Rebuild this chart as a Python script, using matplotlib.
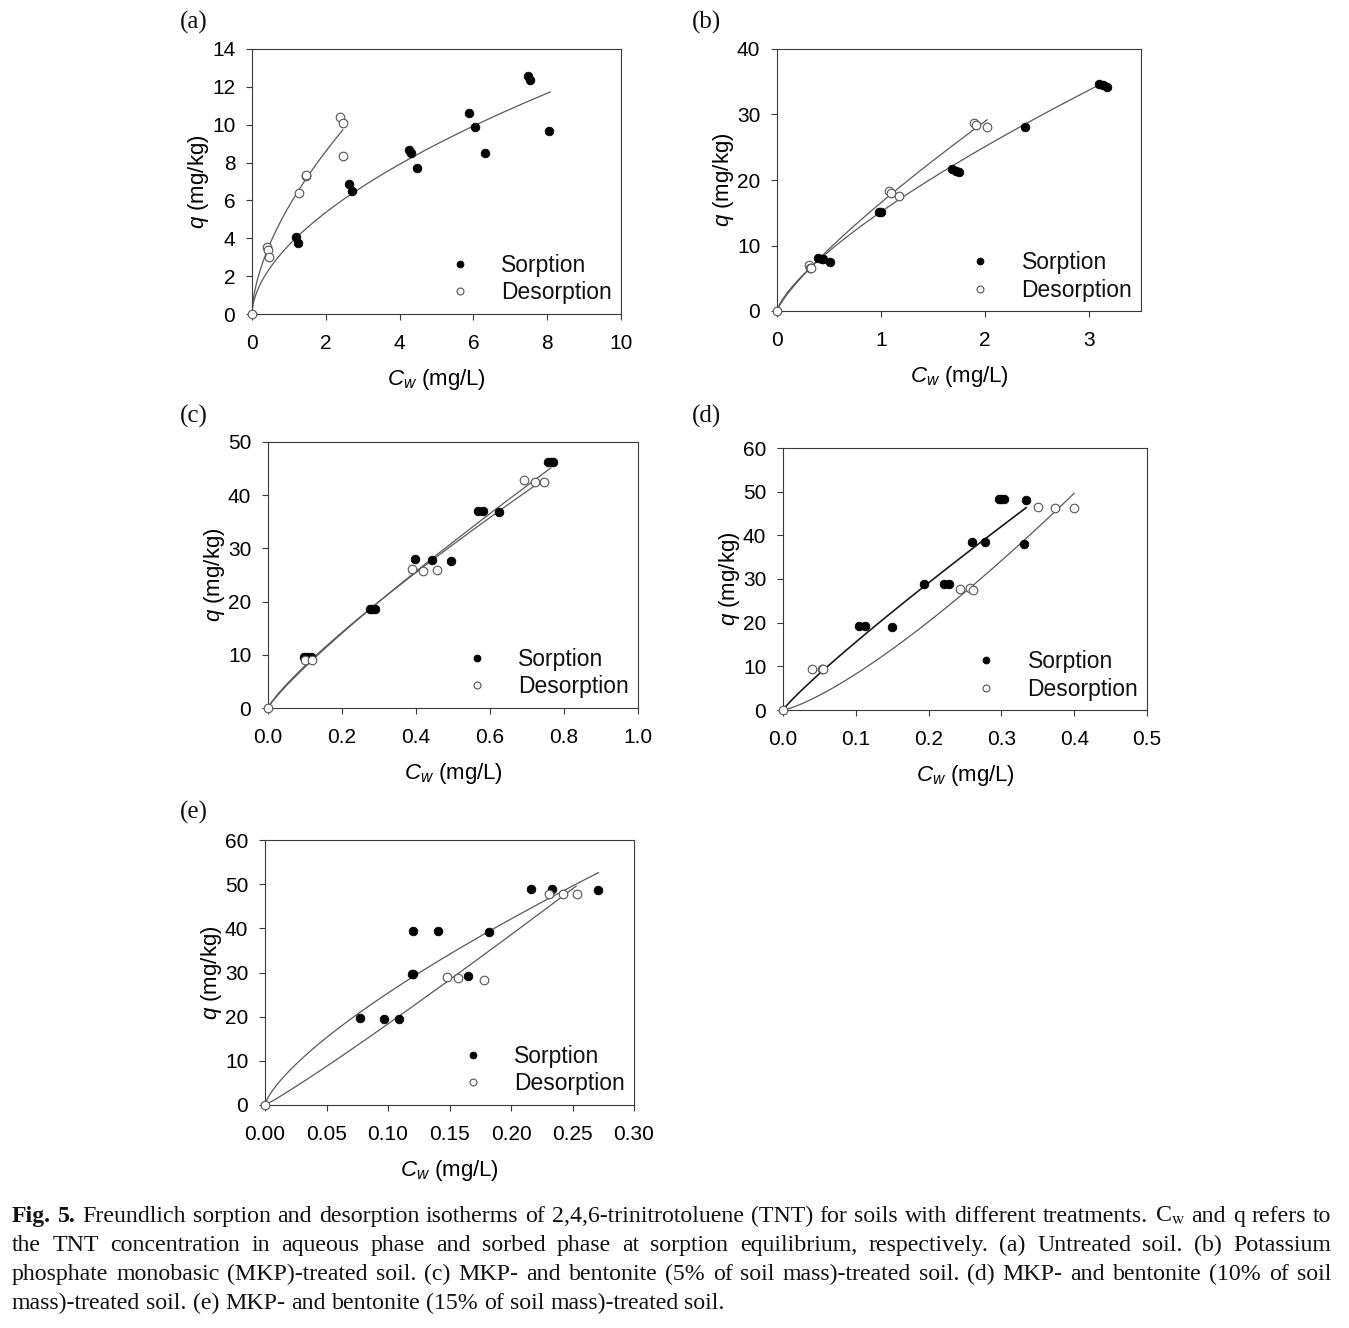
import numpy as np
import matplotlib
matplotlib.use('Agg')
import matplotlib.pyplot as plt
from matplotlib.ticker import FormatStrFormatter

plt.rcParams.update({
    'font.family': 'Liberation Sans',
    'mathtext.fontset': 'custom',
    'mathtext.rm': 'Liberation Sans',
    'mathtext.it': 'Liberation Sans:italic',
    'mathtext.bf': 'Liberation Sans:bold',
    'text.color': '#111111',
})

# ---------------- data ----------------
# (a) Untreated soil
a_sorp_x = [1.19, 1.26, 2.63, 2.70, 4.26, 4.30, 4.46, 5.87, 6.03, 6.31, 7.49, 7.53, 8.06]
a_sorp_y = [4.05, 3.73, 6.85, 6.52, 8.66, 8.52, 7.70, 10.64, 9.90, 8.49, 12.59, 12.36, 9.68]
a_des_x = [0.0, 0.42, 0.43, 0.47, 1.27, 1.45, 1.47, 2.39, 2.46, 2.46]
a_des_y = [0.0, 3.52, 3.38, 3.03, 6.39, 7.27, 7.34, 10.42, 10.11, 8.36]
a_fit = {'sorp': (3.64, 0.56, 8.08), 'des': (5.69, 0.595, 2.46)}   # (K, n, Cmax)

# (b) MKP-treated soil
b_sorp_x = [0.39, 0.43, 0.44, 0.51, 0.985, 1.0, 1.686, 1.72, 1.75, 2.385, 3.10, 3.13, 3.17]
b_sorp_y = [8.14, 7.94, 7.9, 7.53, 15.16, 15.06, 21.63, 21.43, 21.22, 28.14, 34.6, 34.5, 34.25]
b_des_x = [0.0, 0.31, 0.32, 0.33, 1.08, 1.10, 1.176, 1.89, 1.91, 2.02]
b_des_y = [0.0, 7.02, 6.5, 6.6, 18.3, 18.05, 17.56, 28.7, 28.45, 28.14]
b_fit = {'sorp': (15.14, 0.729, 3.12), 'des': (16.55, 0.807, 2.02)}

# (c) MKP + bentonite 5 %
c_sorp_x = [0.097, 0.106, 0.115, 0.275, 0.281, 0.288, 0.396, 0.444, 0.494, 0.568, 0.582, 0.625, 0.757, 0.764, 0.770]
c_sorp_y = [9.68, 9.68, 9.68, 18.68, 18.68, 18.68, 28.06, 27.8, 27.56, 37.1, 37.0, 36.8, 46.2, 46.2, 46.2]
c_des_x = [0.0, 0.101, 0.119, 0.388, 0.42, 0.457, 0.692, 0.721, 0.746]
c_des_y = [0.0, 9.0, 9.0, 26.1, 25.75, 25.9, 42.8, 42.4, 42.5]
c_fit = {'sorp': (57.0, 0.87, 0.764), 'des': (55.0, 0.84, 0.743)}

# (d) MKP + bentonite 10 %
d_sorp_x = [0.105, 0.113, 0.150, 0.193, 0.221, 0.228, 0.260, 0.278, 0.297, 0.300, 0.304, 0.334, 0.331]
d_sorp_y = [19.3, 19.3, 19.1, 28.9, 28.8, 28.8, 38.5, 38.5, 48.3, 48.3, 48.3, 48.1, 38.1]
d_des_x = [0.0, 0.040, 0.053, 0.055, 0.243, 0.257, 0.261, 0.350, 0.373, 0.400]
d_des_y = [0.0, 9.5, 9.5, 9.5, 27.7, 27.9, 27.4, 46.6, 46.3, 46.3]
d_fit = {'sorp': (125.0, 0.905, 0.334), 'des': (162.6, 1.295, 0.400)}

# (e) MKP + bentonite 15 %
e_sorp_x = [0.0775, 0.0964, 0.1086, 0.1197, 0.1205, 0.120, 0.141, 0.182, 0.165, 0.216, 0.233, 0.271]
e_sorp_y = [19.7, 19.5, 19.5, 29.6, 29.6, 39.4, 39.4, 39.1, 29.3, 49.0, 48.9, 48.7]
e_des_x = [0.0, 0.148, 0.157, 0.178, 0.231, 0.242, 0.254]
e_des_y = [0.0, 28.9, 28.7, 28.4, 47.7, 47.7, 47.7]
e_fit = {'sorp': (136.8, 0.732, 0.271), 'des': (215.7, 1.07, 0.253)}

panel_labels = ['(a)', '(b)', '(c)', '(d)', '(e)']
x_ticks = [[0, 2, 4, 6, 8, 10], [0, 1, 2, 3], [0.0, 0.2, 0.4, 0.6, 0.8, 1.0],
           [0.0, 0.1, 0.2, 0.3, 0.4, 0.5], [0.0, 0.05, 0.10, 0.15, 0.20, 0.25, 0.30]]
y_ticks = [[0, 2, 4, 6, 8, 10, 12, 14], [0, 10, 20, 30, 40], [0, 10, 20, 30, 40, 50],
           [0, 10, 20, 30, 40, 50, 60], [0, 10, 20, 30, 40, 50, 60]]
x_lims = [(0, 10), (0, 3.5), (0, 1.0), (0, 0.5), (0, 0.30)]
x_fmt = ['%d', '%d', '%.1f', '%.1f', '%.2f']

caption_lines = [
    "Fig. 5. Freundlich sorption and desorption isotherms of 2,4,6-trinitrotoluene (TNT) for soils with different treatments. C$_{\\mathrm{w}}$ and q refers to",
    "the TNT concentration in aqueous phase and sorbed phase at sorption equilibrium, respectively. (a) Untreated soil. (b) Potassium",
    "phosphate monobasic (MKP)-treated soil. (c) MKP- and bentonite (5% of soil mass)-treated soil. (d) MKP- and bentonite (10% of soil",
    "mass)-treated soil. (e) MKP- and bentonite (15% of soil mass)-treated soil.",
]

# ---------------- layout ----------------
W, H = 1349, 1328
fig = plt.figure(figsize=(W / 100, H / 100), dpi=100)
fig.patch.set_facecolor('white')

def rect(L, R, T, B):
    return [L / W, 1 - B / H, (R - L) / W, (B - T) / H]

boxes = [(252, 621, 49, 314), (777, 1141, 49, 311), (268, 638, 442, 708),
         (783, 1147, 448, 710), (265, 634, 840, 1105)]
label_pos = [(194, 22), (706, 22), (194, 416), (706, 416), (194, 812)]

data = [
    (a_sorp_x, a_sorp_y, a_des_x, a_des_y, a_fit),
    (b_sorp_x, b_sorp_y, b_des_x, b_des_y, b_fit),
    (c_sorp_x, c_sorp_y, c_des_x, c_des_y, c_fit),
    (d_sorp_x, d_sorp_y, d_des_x, d_des_y, d_fit),
    (e_sorp_x, e_sorp_y, e_des_x, e_des_y, e_fit),
]

spine_col = '#3a3a3a'
line_col = '#5a5a5a'

for i, (sx, sy, dx, dy, fit) in enumerate(data):
    ax = fig.add_axes(rect(*boxes[i]))
    # Freundlich fits q = K * C^n
    for key in ('sorp', 'des'):
        K, n, cmax = fit[key]
        cc = np.linspace(0, cmax, 400)
        if i == 3 and key == 'sorp':
            ax.plot(cc, K * cc ** n, color='#1a1a1a', lw=1.2, zorder=2)
        else:
            ax.plot(cc, K * cc ** n, color=line_col, lw=0.9, zorder=2)
    ax.plot(sx, sy, 'o', ms=6.2, mfc='black', mec='black', mew=0.6,
            ls='none', label='Sorption', zorder=3, clip_on=False)
    ax.plot(dx, dy, 'o', ms=6.2, mfc='white', mec='#555555', mew=0.8,
            ls='none', label='Desorption', zorder=4, clip_on=False)

    ax.set_xlim(*x_lims[i])
    ax.set_ylim(y_ticks[i][0], y_ticks[i][-1])
    ax.set_xticks(x_ticks[i])
    ax.set_yticks(y_ticks[i])
    ax.xaxis.set_major_formatter(FormatStrFormatter(x_fmt[i]))
    ax.tick_params(direction='out', length=4, width=0.8, color=spine_col,
                   labelsize=15, top=False, right=False)
    ax.tick_params(axis='x', pad=10.5)
    ax.tick_params(axis='y', pad=8)
    for sp in ax.spines.values():
        sp.set_color(spine_col)
        sp.set_linewidth(0.8)
    ax.set_xlabel('$C_w$ (mg/L)', fontsize=16, labelpad=10)
    ax.set_ylabel('$q$ (mg/kg)', fontsize=16, labelpad=0.5)

    ax.legend(loc='lower right', bbox_to_anchor=(0.976, 0.036), frameon=False,
              fontsize=16.5, borderaxespad=0, borderpad=0, labelspacing=0.2,
              handlelength=2.0, handletextpad=0.8, markerscale=0.8)

    fig.text(label_pos[i][0] / W, 1 - label_pos[i][1] / H, panel_labels[i],
             family='Liberation Serif', fontsize=18, ha='center', va='center')

# ---------------- caption (justified) ----------------
renderer = fig.canvas.get_renderer()
cap_left, cap_right = 12, 1331
baselines = [1222, 1251, 1280, 1309]
cap_fs = 17.2

for li, line in enumerate(caption_lines):
    words = line.split(' ')
    items = []
    for wi, w in enumerate(words):
        bold = (li == 0 and wi < 2)
        t = fig.text(0, 1 - baselines[li] / H, w, family='Liberation Serif',
                     fontsize=cap_fs, fontweight='bold' if bold else 'normal',
                     ha='left', va='baseline', math_fontfamily='stix')
        items.append(t)
    widths = [t.get_window_extent(renderer).width for t in items]
    total = cap_right - cap_left
    if li < len(caption_lines) - 1:
        gap = (total - sum(widths)) / (len(items) - 1)
    else:
        gap = cap_fs * 100 / 72 * 0.25
    x = cap_left
    for t, w in zip(items, widths):
        t.set_x(x / W)
        x += w + gap

fig.savefig('out.png', dpi=100, facecolor='white')
